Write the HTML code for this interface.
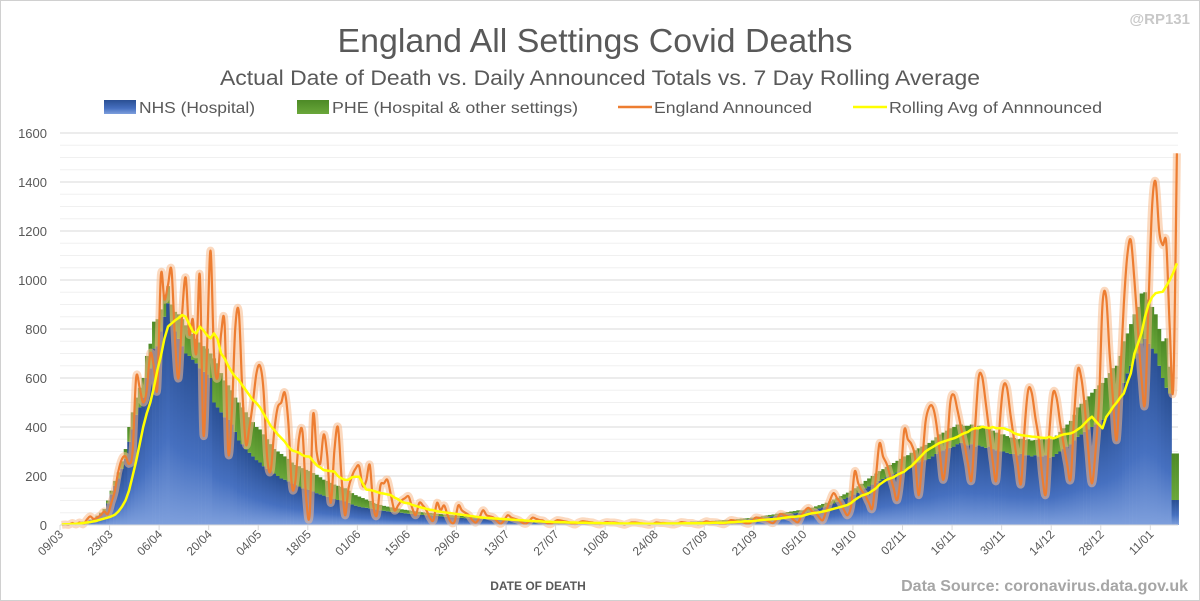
<!DOCTYPE html>
<html><head><meta charset="utf-8"><style>
html,body{margin:0;padding:0;background:#fff;}
svg{display:block;font-family:"Liberation Sans",sans-serif;}
</style></head><body>
<svg id="chart" width="1200" height="601" viewBox="0 0 1200 601">
<defs>
<linearGradient id="gBlue" x1="0" y1="0" x2="0" y2="1"><stop offset="0" stop-color="#2a4f93"/><stop offset="0.6" stop-color="#4670c0"/><stop offset="1" stop-color="#7e9fdc"/></linearGradient>
<linearGradient id="gGreen" x1="0" y1="0" x2="0" y2="1"><stop offset="0" stop-color="#4d8a26"/><stop offset="1" stop-color="#6aa73a"/></linearGradient>
</defs>
<rect x="0.5" y="0.5" width="1199" height="600" fill="#fff" stroke="#d0d0d0"/>
<text x="1190" y="24" text-anchor="end" font-size="15" font-weight="bold" fill="#c8c8c8">@RP131</text>
<text x="595" y="52" text-anchor="middle" font-size="33" fill="#595959" textLength="515" lengthAdjust="spacingAndGlyphs">England All Settings Covid Deaths</text>
<text x="600" y="85" text-anchor="middle" font-size="21" fill="#595959" textLength="760" lengthAdjust="spacingAndGlyphs">Actual Date of Death vs. Daily Announced Totals vs. 7 Day Rolling Average</text>
<g>
<g><rect x="104" y="100" width="32" height="14" fill="url(#gBlue)"/><text x="139" y="113" font-size="16" fill="#595959" textLength="116" lengthAdjust="spacingAndGlyphs">NHS (Hospital)</text></g>
<g><rect x="297" y="100" width="32" height="14" fill="url(#gGreen)"/><text x="332" y="113" font-size="16" fill="#595959" textLength="246" lengthAdjust="spacingAndGlyphs">PHE (Hospital &amp; other settings)</text></g>
<g><line x1="618" y1="107" x2="652" y2="107" stroke="#ed7d31" stroke-width="2.5"/><text x="654" y="113" font-size="16" fill="#595959" textLength="158" lengthAdjust="spacingAndGlyphs">England Announced</text></g>
<g><line x1="853" y1="107" x2="887" y2="107" stroke="#ffff00" stroke-width="2.5"/><text x="889" y="113" font-size="16" fill="#595959" textLength="213" lengthAdjust="spacingAndGlyphs">Rolling Avg of Annnounced</text></g>
</g>
<g id="grid"></g>
<g id="yaxis"></g>
<g id="bars"></g>
<g id="lines"></g>
<g id="xaxis"></g>
<text x="538" y="590" text-anchor="middle" font-size="12" font-weight="bold" fill="#595959">DATE OF DEATH</text>
<text x="1188" y="591" text-anchor="end" font-size="16" font-weight="bold" fill="#a6a6a6">Data Source: coronavirus.data.gov.uk</text>
</svg>
<script>
const startLabel = "09/03";
const xTickLabels = ["09/03","23/03","06/04","20/04","04/05","18/05","01/06","15/06","29/06","13/07","27/07","10/08","24/08","07/09","21/09","05/10","19/10","02/11","16/11","30/11","14/12","28/12","11/01"];
const yTicks = [0,200,400,600,800,1000,1200,1400,1600];
const nhs = [2,3,4,6,7,9,12, 15,20,25,34,45,57,88, 125,160,190,230,270,340,390, 450,480,520,600,640,720,730,
790,850,905,830,790,760,730, 700,690,675,660,640,625,615, 600,500,480,460,440,430,410, 380,345,330,310,295,280,265,
255,240,230,220,210,200,190, 185,178,170,163,157,150,145, 143,137,130,125,120,115,110, 106,102,100,96,90,84,79,
75,72,70,68,66,63,60, 58,56,54,52,51,50,48, 46,45,44,42,41,40,39, 38,37,36,34,33,32,31, 30,29,28,27,27,26,25,
24,24,23,22,22,21,20, 20,19,18,18,17,17,16, 16,15,15,14,14,13,13, 13,12,12,12,11,11,11, 11,10,10,10,10,10,9,
9,9,9,9,9,8,8, 8,8,8,8,8,8,8, 8,8,8,9,9,9,9, 10,10,10,11,11,12,12, 13,13,14,15,15,16,17, 18,19,20,21,22,23,25,
26,28,30,32,34,36,38, 40,42,44,46,48,50,50, 52,56,60,64,68,72,76, 82,88,94,100,106,112,118, 125,132,140,150,158,165,172,
180,188,195,200,208,215,220, 225,230,240,250,255,260,265, 270,280,290,300,305,310,315, 320,330,335,330,325,330,320,
325,320,315,320,310,305,300, 300,295,290,290,285,290,285, 285,280,285,280,280,285,275, 279,290,300,310,320,330,345,
360,370,380,390,400,410,420, 430,440,460,480,500,530,580, 619,650,680,700,741,760,740, 720,700,650,600,560,537,102, 102];
const phe = [0,0,1,1,1,1,2, 1,2,3,4,5,8,12, 15,20,25,30,40,60,70, 70,80,80,90,100,110,110,
90,90,70,70,80,100,110, 115,105,105,100,105,105,105, 100,180,180,160,150,140,140, 140,155,150,150,145,140,135,
135,130,120,110,100,100,100, 95,92,85,82,83,82,80, 77,75,75,70,65,65,62, 59,58,56,54,50,46,43,
41,38,34,30,24,23,22, 20,19,18,18,16,14,14, 14,13,12,12,11,10,10, 10,9,9,9,8,8,8, 8,8,7,7,7,7,6,
6,6,6,6,5,5,5, 5,5,5,4,4,4,4, 4,4,4,4,3,3,3, 3,3,3,3,3,3,3, 3,3,3,2,2,2,2,
2,2,2,2,2,2,2, 2,2,2,2,2,2,2, 2,2,2,2,2,2,2, 2,2,2,3,3,3,3, 3,3,3,3,4,4,4, 4,4,4,5,5,5,5,
6,6,6,7,7,7,8, 8,8,9,9,9,10,10, 10,10,11,12,13,14,15, 15,16,17,18,19,20,22, 25,26,28,30,32,35,38,
40,40,42,45,45,47,50, 55,55,55,55,58,60,62, 65,65,68,70,72,75,80, 80,80,75,75,80,80,80,
80,85,80,75,75,72,70, 70,68,67,65,65,62,62, 65,65,62,68,70,65,75, 71,75,80,85,90,95,105,
120,125,130,135,140,145,150, 150,160,160,160,150,160,170, 163,170,180,190,204,190,180, 170,160,150,150,202,109,190, 190];
const announced = [1,2,1,8,2,10,3, 20,35,25,30,40,55,45, 90,140,220,270,280,250,300, 600,560,500,550,700,650,560,
1020,920,980,1040,750,600,860, 1010,780,840,700,1020,370,700, 1120,700,600,780,820,300,450, 800,870,550,330,400,500,620,
650,550,280,220,380,480,500, 540,420,160,180,350,380,120, 40,450,300,250,370,280,90, 300,400,200,40,150,200,230,
240,160,180,245,80,40,160, 170,184,120,60,80,100,110, 116,70,40,90,80,60,30, 20,90,60,80,40,10,15, 80,60,50,40,20,10,30,
60,40,35,30,15,5,20, 40,30,25,20,10,5,15, 30,25,20,18,8,3,12, 20,18,15,12,6,2,10, 15,14,12,10,5,2,8,
12,10,10,8,4,1,6, 10,10,8,6,3,1,5, 10,8,8,6,3,2,6, 12,10,8,8,4,2,8, 15,12,12,10,6,3,10, 20,18,15,14,8,5,15,
30,28,25,20,12,8,25, 45,40,35,30,18,12,40, 60,70,55,50,30,20,60, 100,130,110,90,60,40,80, 218,170,140,120,90,70,200,
333,280,250,200,150,102,200, 388,350,330,280,122,250,420, 480,483,420,300,184,300,500, 531,470,400,330,250,184,400,
600,605,500,380,260,184,420, 565,560,450,350,250,170,400, 551,540,440,350,200,129,380, 537,520,420,330,250,190,450,
633,600,480,300,170,300,500, 900,932,700,500,347,600,900, 1100,1163,1000,800,600,497,900, 1300,1401,1200,1143,1150,800,565, 1517];
const rollingAvg = [2,3,3,4,5,6,8, 10,12,15,18,22,26,30, 35,42,55,75,100,140,200, 260,330,400,455,500,560,630,
690,760,810,823,835,845,857, 850,820,790,782,810,795,775, 762,782,760,700,680,650,625, 605,592,570,550,530,510,497,
480,455,430,405,388,370,355, 340,320,305,300,295,285,280, 279,260,245,235,224,222,220, 218,200,190,184,185,195,197,
197,170,145,143,140,135,130, 128,125,122,112,105,95,90, 88,82,78,74,70,66,62, 60,56,54,52,50,48,46, 44,42,40,38,36,34,32,
30,29,28,27,26,25,24, 23,22,21,20,19,18,17, 16,15,15,14,13,13,12, 12,11,11,10,10,10,9, 9,9,8,8,8,8,7,
7,7,7,6,6,6,6, 6,6,6,6,5,5,5, 5,5,6,6,6,6,6, 6,7,7,7,7,7,7, 8,8,9,9,9,9,10, 11,12,13,14,15,15,15,
17,19,21,22,23,24,25, 27,29,31,33,34,35,36, 41,45,48,50,52,55,58, 62,66,70,74,78,82,90, 102,112,120,125,130,140,150,
165,175,185,190,195,205,212, 218,230,240,255,270,285,300, 310,318,327,335,340,345,350, 354,360,368,375,380,390,395,
395,401,398,395,400,395,395, 395,390,385,375,370,367,365, 363,361,360,358,356,355,360, 354,358,365,370,372,374,380,
390,400,415,430,442,425,410, 395,440,460,483,500,520,537, 580,619,700,740,782,850,900, 930,946,950,952,975,1000,1030, 1068];

const NS = "http://www.w3.org/2000/svg";
const X0 = 60, DW = 3.54, Y0 = 525, YS = 392/1600, XR = 1178;
function xPos(d){ return X0 + d*DW; }
function yPos(v){ return Y0 - v*YS; }
function mk(tag, attrs, parent){ const e=document.createElementNS(NS,tag); for(const k in attrs) e.setAttribute(k,attrs[k]); parent.appendChild(e); return e; }

const grid = document.getElementById('grid');
for(let v=50; v<=1600; v+=50){
  const major = v%200===0;
  const l = mk('line',{x1:X0,x2:XR,y1:yPos(v),y2:yPos(v),stroke:major?'#d9d9d9':'#f0f0f0','stroke-width':1},grid);
  
  
}
const yax = document.getElementById('yaxis');
yTicks.forEach(v=>{
  const t = mk('text',{x:47,y:yPos(v)+5,'text-anchor':'end','font-size':13,fill:'#595959'},yax);
  t.textContent = v;
  
  
});

const bars = document.getElementById('bars');
for(let d=0; d<nhs.length; d++){
  const x = xPos(d), w = DW+0.3;
  const b = mk('rect',{x:x,y:yPos(nhs[d]),width:w,height:nhs[d]*YS,fill:'url(#gBlue)'},bars);
  
  
  const g = mk('rect',{x:x,y:yPos(nhs[d]+phe[d]),width:w,height:phe[d]*YS,fill:'url(#gGreen)'},bars);
  
  
}

function smoothPath(vals){
  const pts = vals.map((v,i)=>[xPos(i)+DW/2, yPos(v)]);
  let p = 'M'+pts[0][0].toFixed(1)+','+pts[0][1].toFixed(1);
  for(let i=0;i<pts.length-1;i++){
    const p0=pts[Math.max(i-1,0)], p1=pts[i], p2=pts[i+1], p3=pts[Math.min(i+2,pts.length-1)];
    const c1=[p1[0]+(p2[0]-p0[0])/6, p1[1]+(p2[1]-p0[1])/6];
    const c2=[p2[0]-(p3[0]-p1[0])/6, p2[1]-(p3[1]-p1[1])/6];
    p+=' C'+c1[0].toFixed(1)+','+c1[1].toFixed(1)+' '+c2[0].toFixed(1)+','+c2[1].toFixed(1)+' '+p2[0].toFixed(1)+','+p2[1].toFixed(1);
  }
  return p;
}
function linePath(vals){ return vals.map((v,i)=>(i?'L':'M')+(xPos(i)+DW/2).toFixed(1)+','+yPos(v).toFixed(1)).join(' '); }
const lines = document.getElementById('lines');
const ap = smoothPath(announced);
const glow = mk('path',{d:ap,fill:'none',stroke:'#f7b98b','stroke-width':8,'stroke-opacity':0.55,'stroke-linejoin':'round'},lines);


const al = mk('path',{d:ap,fill:'none',stroke:'#ed7d31','stroke-width':2.2,'stroke-linejoin':'round'},lines);


const rl = mk('path',{d:linePath(rollingAvg),fill:'none',stroke:'#ffff00','stroke-width':2.5,'stroke-linejoin':'round'},lines);



const xax = document.getElementById('xaxis');
const axl = mk('line',{x1:X0,x2:XR,y1:Y0,y2:Y0,stroke:'#d9d9d9','stroke-width':1},xax);


xTickLabels.forEach((lab,i)=>{
  const x = xPos(i*14);
  const tk = mk('line',{x1:x,x2:x,y1:Y0,y2:Y0+5,stroke:'#d9d9d9'},xax);
  
  
  const t = mk('text',{x:x+4,y:Y0+10,'text-anchor':'end','font-size':12,fill:'#595959',transform:'rotate(-45 '+(x+4)+' '+(Y0+10)+')'},xax);
  t.textContent = lab;
  
  
});
</script>
</body></html>
